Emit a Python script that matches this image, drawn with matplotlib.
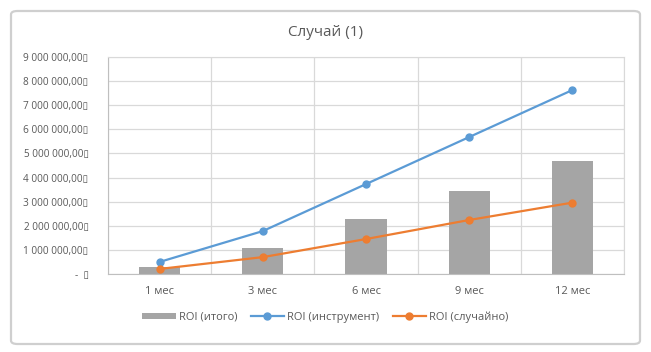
#!/usr/bin/env python
# ROI chart, case (1)

import numpy as np
import matplotlib.pyplot as plt
from matplotlib.patches import FancyBboxPatch
from matplotlib.ticker import FuncFormatter, MultipleLocator

months = ['1 мес', '3 мес', '6 мес', '9 мес', '12 мес']
roi_tool = [500000, 1780000, 3730000, 5680000, 7630000]
roi_random = [210000, 700000, 1450000, 2240000, 2960000]
roi_total = [290000, 1080000, 2280000, 3440000, 4670000]

plt.rcParams['font.family'] = ['Open Sans', 'DejaVu Sans']
txt = '#595959'

fig = plt.figure(figsize=(6.51, 3.52), dpi=100)
ax = fig.add_axes([108 / 651, 1 - 274 / 352, 516 / 651, 217 / 352])

# chart frame
fig.patches.append(FancyBboxPatch((11 / 651, 8 / 352), 629 / 651, 333 / 352,
                                  boxstyle='round,pad=0,rounding_size=0.01',
                                  transform=fig.transFigure, fill=False,
                                  edgecolor='#CFCFCF', linewidth=1.6))

x = np.arange(len(months))
bars = ax.bar(x, roi_total, width=0.4, color='#A5A5A5', label='ROI (итого)', zorder=2)
l1, = ax.plot(x, roi_tool, color='#5B9BD5', lw=1.6, marker='o', ms=5,
              label='ROI (инструмент)', zorder=3)
l2, = ax.plot(x, roi_random, color='#ED7D31', lw=1.6, marker='o', ms=5,
              label='ROI (случайно)', zorder=3)

ax.set_xlim(-0.5, 4.5)
ax.set_ylim(0, 9000000)
ax.set_xticks(x)
ax.set_xticklabels(months)
ax.set_xticks(np.arange(-0.5, 5, 1), minor=True)
ax.yaxis.set_major_locator(MultipleLocator(1000000))


def fmt(v, pos):
    if v == 0:
        return '-  \u25af'
    return '{:,.2f}'.format(v).replace(',', ' ').replace('.', ',') + '\u25af'


ax.yaxis.set_major_formatter(FuncFormatter(fmt))
ax.grid(True, axis='y', which='major', color='#D9D9D9', lw=0.9, zorder=0)
ax.grid(True, axis='x', which='minor', color='#D9D9D9', lw=0.9, zorder=0)
ax.set_axisbelow(True)
ax.tick_params(which='both', length=0, labelsize=7.2, colors=txt)
ax.tick_params(axis='x', labelsize=8, pad=9)
ax.tick_params(axis='y', pad=14)
for s in ax.spines.values():
    s.set_color('#D9D9D9')
ax.spines['left'].set_color('#BFBFBF')
ax.spines['bottom'].set_color('#BFBFBF')

fig.text(0.5, 1 - 33 / 352, 'Случай (1)', ha='center', va='center',
         fontsize=11, color=txt)

leg = fig.legend([bars, l1, l2], ['ROI (итого)', 'ROI (инструмент)', 'ROI (случайно)'],
                 loc='center', bbox_to_anchor=(0.5, 1 - 317 / 352), ncol=3,
                 frameon=False, fontsize=8, handlelength=3.0, handleheight=0.5,
                 columnspacing=1.2, handletextpad=0.3)
for t in leg.get_texts():
    t.set_color(txt)

fig.savefig('out.png', dpi=100)
